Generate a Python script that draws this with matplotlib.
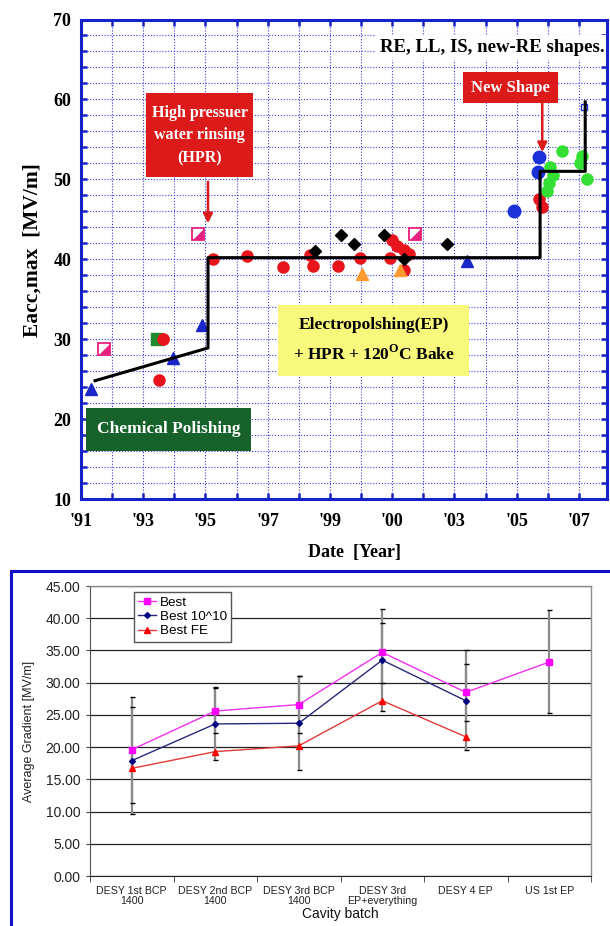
import matplotlib
matplotlib.use('Agg')
import numpy as np
import matplotlib.pyplot as plt
from matplotlib.patches import Rectangle

plt.rcParams['mathtext.fontset'] = 'custom'
plt.rcParams['mathtext.rm'] = 'Liberation Serif:bold'

SERIF = 'Liberation Serif'
SANS = 'Liberation Sans'
W, H = 610, 926

# ---- top panel: record Eacc,max against year
step_year = [1991.45, 1995.08, 1995.08, 2005.75, 2005.75, 2007.2, 2007.2]
step_eacc = [24.8, 28.9, 40.2, 40.2, 51.0, 51.0, 59.7]

red_year = [1993.65, 1993.5, 1995.25, 1996.33, 1997.48, 1998.36, 1998.47, 1999.27,
            1999.95, 2000.93, 2000.99, 2001.15, 2001.37, 2001.53, 2001.37,
            2005.72, 2005.8]
red_eacc = [30.0, 24.9, 40.0, 40.4, 39.0, 40.5, 39.2, 39.1,
            40.1, 40.1, 42.4, 41.6, 41.2, 40.6, 38.7,
            47.5, 46.6]
blue_tri_year = [1991.33, 1993.94, 1994.9, 2003.4]
blue_tri_eacc = [23.8, 27.7, 31.8, 39.8]
blue_dot_year = [2004.9, 2005.73, 2005.68]
blue_dot_eacc = [46.0, 52.8, 50.9]
green_year = [2006.45, 2006.08, 2006.18, 2006.03, 2005.97, 2007.1, 2007.04, 2007.26]
green_eacc = [53.6, 51.6, 50.5, 49.5, 48.6, 52.9, 52.0, 50.0]
green_sq_year = [1993.45]
green_sq_eacc = [30.0]
pink_year = [1991.75, 1994.76, 2001.74]
pink_eacc = [28.8, 43.1, 43.1]
orange_year = [2000.02, 2001.26]
orange_eacc = [38.2, 38.7]
diamond_year = [1998.52, 1999.36, 1999.76, 2000.74, 2001.38, 2002.76]
diamond_eacc = [41.0, 43.0, 41.9, 43.0, 40.0, 41.9]
hollow_year = [2007.15]
hollow_eacc = [59.0]

year_ticks = np.arange(1991, 2008)
year_labels = ["'91", '', "'93", '', "'95", '', "'97", '', "'99", '', "'00", '',
               "'03", '', "'05", '', "'07"]

# ---- bottom panel: average gradient by cavity batch
batches = ['DESY 1st BCP\n1400', 'DESY 2nd BCP\n1400', 'DESY 3rd BCP\n1400',
           'DESY 3rd\nEP+everything', 'DESY 4 EP', 'US 1st EP']
best = [19.6, 25.6, 26.6, 34.7, 28.5, 33.2]
best_1e10 = [17.9, 23.6, 23.7, 33.5, 27.2]
best_fe = [16.7, 19.3, 20.2, 27.2, 21.6]
best_lo = [9.6, 18.0, 16.4, 25.6, 19.5, 25.3]
best_hi = [27.7, 29.3, 31.1, 41.4, 35.0, 41.2]
b10_lo = [11.4, 22.2, 22.2, 30.0, 24.1]
b10_hi = [26.2, 29.1, 31.0, 39.2, 32.9]

fig = plt.figure(figsize=(W / 100, H / 100), dpi=100)

# ================= top panel =================
BLUE = '#1522c8'
ax1 = fig.add_axes([81 / W, 1 - 499 / H, 526 / W, 479.5 / H])
ax1.set_xlim(1991, 2007.9)
ax1.set_ylim(10, 70)
for sp in ax1.spines.values():
    sp.set_color(BLUE)
    sp.set_linewidth(2.2)

ax1.set_xticks(year_ticks)
ax1.set_xticklabels(year_labels, fontfamily=SERIF, fontweight='bold', fontsize=13)
ax1.set_yticks(np.arange(10, 71, 10))
ax1.set_yticks(np.arange(10, 71, 2), minor=True)
ax1.set_yticklabels([str(v) for v in range(10, 71, 10)], fontfamily=SERIF,
                    fontweight='bold', fontsize=13)
ax1.tick_params(which='both', direction='in', top=True, right=True,
                color=BLUE, width=1.8, length=4)
ax1.tick_params(axis='x', pad=10)
ax1.tick_params(axis='y', pad=7)
grid_kw = dict(color='#3a3ad8', lw=0.8, ls=(0, (1, 1.6)))
ax1.grid(True, which='major', axis='x', **grid_kw)
ax1.grid(True, which='both', axis='y', **grid_kw)
ax1.set_axisbelow(True)

ms = 8
ax1.plot(red_year, red_eacc, ls='none', marker='o', ms=ms, color='#e8141c', zorder=3)
ax1.plot(green_sq_year, green_sq_eacc, ls='none', marker='s', ms=ms, color='#1f8a2e', zorder=3)
ax1.plot(red_year[:1], red_eacc[:1], ls='none', marker='o', ms=ms, color='#e8141c', zorder=3)
ax1.plot(blue_tri_year, blue_tri_eacc, ls='none', marker='^', ms=ms + 1, color='#1a26c8', zorder=3)
ax1.plot(blue_dot_year, blue_dot_eacc, ls='none', marker='o', ms=ms + 1, color='#1a30d8', zorder=3)
ax1.plot(green_year, green_eacc, ls='none', marker='o', ms=ms, color='#33e033', zorder=3)
ax1.plot(orange_year, orange_eacc, ls='none', marker='^', ms=ms, color='#ff9a30', zorder=3)
ax1.plot(diamond_year, diamond_eacc, ls='none', marker='D', ms=6.5, color='black', zorder=3)
ax1.plot(pink_year, pink_eacc, ls='none', marker='s', ms=ms, mfc='white', mec='#e8207e',
         mew=1.3, zorder=3)
ax1.plot(pink_year, pink_eacc, ls='none', marker=[(1, -1), (1, 1), (-1, -1)], ms=ms,
         color='#e8207e', mew=0, zorder=3)
ax1.plot(hollow_year, hollow_eacc, ls='none', marker='s', ms=4.5, mfc='white', mec='#1a30d8',
         mew=1, zorder=3)
ax1.plot(step_year, step_eacc, color='black', lw=2.2, zorder=4)

# annotation boxes
ax1.add_patch(Rectangle((2000.45, 64.9), 8, 3.15, fc='white', ec='none', zorder=2))
ax1.text(2007.82, 66.5, 'RE, LL, IS, new-RE shapes.', ha='right', va='center',
         fontfamily=SERIF, fontweight='bold', fontsize=13.5, zorder=6)

ax1.add_patch(Rectangle((2003.28, 59.54), 3.06, 3.94, fc='#dc1a1a', ec='none', zorder=5))
ax1.text(2004.81, 61.45, 'New Shape', ha='center', va='center', color='white',
         fontfamily=SERIF, fontweight='bold', fontsize=12, zorder=6)
ax1.annotate('', xy=(2005.82, 53.4), xytext=(2005.82, 59.5),
             arrowprops=dict(arrowstyle='-|>', color='#dc1a1a', lw=1.8,
                             mutation_scale=14, shrinkA=0, shrinkB=0), zorder=6)

ax1.add_patch(Rectangle((1993.09, 50.26), 3.44, 10.53, fc='#dc1a1a', ec='none', zorder=5))
ax1.text(1994.81, 55.5, 'High pressuer\nwater rinsing\n(HPR)', ha='center', va='center',
         color='white', fontfamily=SERIF, fontweight='bold', fontsize=11.5,
         linespacing=1.55, zorder=6)
ax1.annotate('', xy=(1995.08, 44.5), xytext=(1995.08, 49.7),
             arrowprops=dict(arrowstyle='-|>', color='#dc1a1a', lw=1.8,
                             mutation_scale=14, shrinkA=0, shrinkB=0), zorder=6)

ax1.add_patch(Rectangle((1997.33, 25.45), 6.15, 8.77, fc='#f8f87c', ec='none', zorder=5))
ax1.text(2000.4, 29.85, 'Electropolshing(EP)\n+ HPR + 120$^{\\mathrm{O}}$C Bake',
         ha='center', va='center', fontfamily=SERIF, fontweight='bold', fontsize=12.5,
         linespacing=1.75, zorder=6)

ax1.add_patch(Rectangle((1991.16, 16.05), 5.31, 5.39, fc='#17622b', ec='none', zorder=5))
ax1.text(1993.81, 18.75, 'Chemical Polishing', ha='center', va='center', color='white',
         fontfamily=SERIF, fontweight='bold', fontsize=12.5, zorder=6)

fig.text(33 / W, 1 - 250 / H, 'Eacc,max  [MV/m]', rotation=90, ha='center', va='center',
         fontfamily=SERIF, fontweight='bold', fontsize=15.5)
fig.text(354 / W, 1 - 553 / H, 'Date  [Year]', ha='center', va='center',
         fontfamily=SERIF, fontweight='bold', fontsize=13)

# blue frame round the lower chart
fig.add_artist(Rectangle((11 / W, -0.1), 1.2, (H - 571) / H + 0.1, transform=fig.transFigure,
                         fill=False, ec='#1010c8', lw=2.2))

# ================= bottom panel =================
ax2 = fig.add_axes([90 / W, 1 - 876 / H, 501 / W, 290 / H])
x = np.arange(len(batches))
ax2.set_xlim(-0.5, len(batches) - 0.5)
ax2.set_ylim(0, 45)
ax2.set_yticks(np.arange(0, 46, 5))
ax2.set_yticklabels(['%.2f' % v for v in np.arange(0, 46, 5)], fontfamily=SANS, fontsize=10,
                    color='#222222')
ax2.set_xticks(x)
ax2.set_xticklabels(batches, fontfamily=SANS, fontsize=7.7, color='#222222', linespacing=1.05)
ax2.set_xticks(np.arange(-0.5, len(batches)), minor=True)
ax2.tick_params(axis='x', which='major', length=0, pad=7)
ax2.tick_params(axis='x', which='minor', length=4, color='#333333')
ax2.tick_params(axis='y', length=3, color='#444444', pad=4)
ax2.yaxis.grid(True, color='#222222', lw=0.9)
ax2.set_axisbelow(True)
for side in ('top', 'right'):
    ax2.spines[side].set_color('#8c8c8c')
    ax2.spines[side].set_linewidth(1)
ax2.spines['left'].set_color('#555555')
ax2.spines['bottom'].set_color('#222222')

eb1 = ax2.errorbar(x, best, yerr=[np.subtract(best, best_lo), np.subtract(best_hi, best)],
                   fmt='none', ecolor='#8a8a8a', elinewidth=1.6, capsize=1.8, capthick=1,
                   zorder=2)
eb2 = ax2.errorbar(x[:5], best_1e10,
                   yerr=[np.subtract(best_1e10, b10_lo), np.subtract(b10_hi, best_1e10)],
                   fmt='none', ecolor='#8a8a8a', elinewidth=1.6, capsize=1.8, capthick=1,
                   zorder=2)
for eb in (eb1, eb2):
    for cap in eb[1]:
        cap.set_color('black')
        cap.set_markeredgecolor('black')

ax2.plot(x, best, color='#f030f0', marker='s', ms=4.5, mfc='#ff00ff', mec='#ff00ff',
         lw=1, label='Best', zorder=4)
ax2.plot(x[:5], best_1e10, color='#28287a', marker='D', ms=3, mfc='#000080', mec='#000080',
         lw=1, label='Best 10^10', zorder=4)
ax2.plot(x[:5], best_fe, color='#e03a3a', marker='^', ms=4.5, mfc='#ff0000', mec='#ff0000',
         lw=1, label='Best FE', zorder=4)

leg = ax2.legend(loc='upper left', bbox_to_anchor=(0.0878, 0.979), borderaxespad=0,
                 prop={'family': SANS, 'size': 9.7}, fancybox=False, framealpha=1,
                 edgecolor='#555555', handlelength=1.3, handletextpad=0.3,
                 labelspacing=0.15, borderpad=0.3)
leg.get_frame().set_linewidth(1)

fig.text(29 / W, 1 - 731 / H, 'Average Gradient [MV/m]', rotation=90, ha='center',
         va='center', fontfamily=SANS, fontsize=9, color='#222222')
fig.text(340.5 / W, 1 - 914 / H, 'Cavity batch', ha='center', va='center',
         fontfamily=SANS, fontsize=10, color='#111111')

fig.savefig('out.png', dpi=100)
